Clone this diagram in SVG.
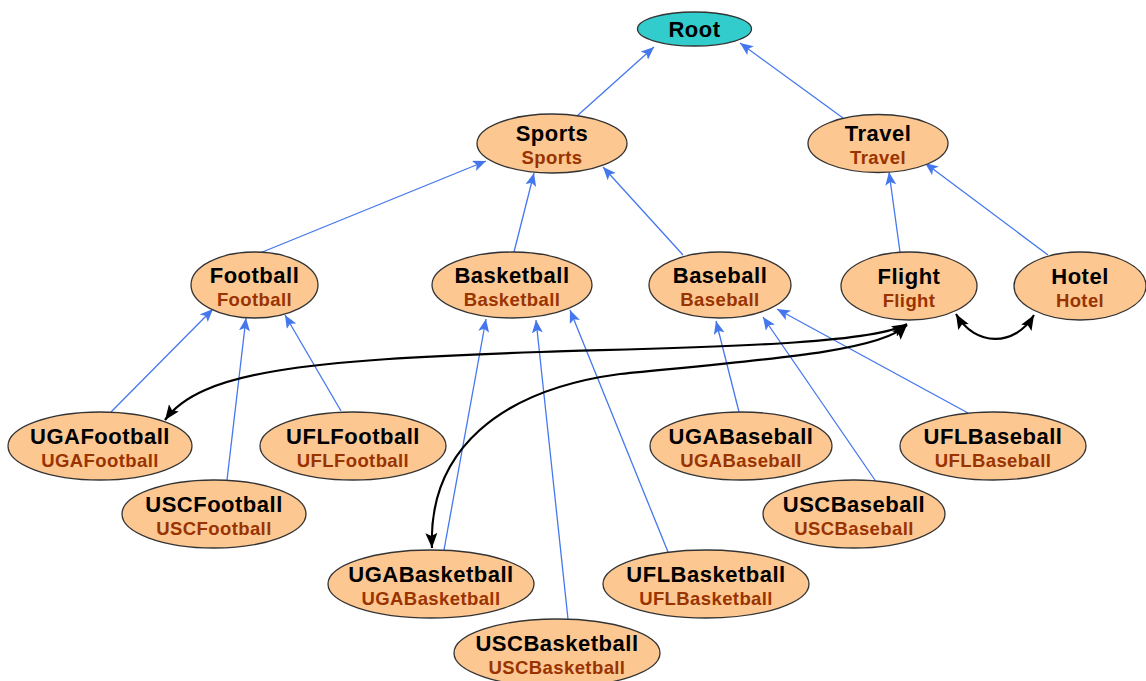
<svg xmlns="http://www.w3.org/2000/svg" width="1146" height="681" viewBox="0 0 1146 681">
<defs>
<style>
.n ellipse{fill:#fdc792;stroke:#333;stroke-width:1.3}
.n ellipse.root{fill:#33cccc}
.t1{font-family:"Liberation Sans",Arial,sans-serif;font-weight:bold;font-size:22px;letter-spacing:0.5px;fill:#000;text-anchor:middle}
.t2{font-family:"Liberation Sans",Arial,sans-serif;font-weight:bold;font-size:18.5px;letter-spacing:0.4px;fill:#993300;text-anchor:middle}
.e{stroke:#4477ee;stroke-width:1.3;fill:none;marker-end:url(#ab)}
.k{stroke:#000;stroke-width:2.2;fill:none;marker-end:url(#ak);marker-start:url(#ak)}
</style>
<marker id="ab" markerUnits="userSpaceOnUse" markerWidth="14" markerHeight="12" refX="13" refY="5.5" orient="auto"><path d="M0,0 L13,5.5 L0,11 L3,5.5 z" fill="#4477ee"/></marker>
<marker id="ak" markerUnits="userSpaceOnUse" markerWidth="16" markerHeight="14" refX="15" refY="6" orient="auto-start-reverse"><path d="M0,0 L15,6 L0,12 L3,6 z" fill="#000"/></marker>
</defs>
<rect width="1146" height="681" fill="#fff"/>
<g id="connectors">
<line class="e" x1="577" y1="116" x2="654" y2="47"/>
<line class="e" x1="843" y1="118" x2="740" y2="43"/>
<line class="e" x1="260" y1="253" x2="486" y2="161"/>
<line class="e" x1="514" y1="252" x2="534" y2="173"/>
<line class="e" x1="683" y1="255" x2="603" y2="167"/>
<line class="e" x1="900" y1="252" x2="889" y2="172"/>
<line class="e" x1="1048" y1="255" x2="925" y2="163"/>
<line class="e" x1="111" y1="412" x2="213" y2="309"/>
<line class="e" x1="227" y1="480" x2="246" y2="318"/>
<line class="e" x1="341" y1="411" x2="285" y2="315"/>
<line class="e" x1="444" y1="550" x2="486" y2="319"/>
<line class="e" x1="568" y1="619" x2="536" y2="320"/>
<line class="e" x1="668" y1="552" x2="570" y2="310"/>
<line class="e" x1="739" y1="412" x2="716" y2="321"/>
<line class="e" x1="877" y1="483" x2="763" y2="317"/>
<line class="e" x1="968" y1="413" x2="777" y2="309"/>
<path class="k" d="M165,420 C200,372 300,360 540,352 C700,347 870,345 907,324"/>
<path class="k" d="M432,548 C428,450 500,390 620,374 C760,360 880,352 907,325"/>
<path class="k" d="M956,314 C975,347 1015,347 1034,315"/>
</g>
<g id="Root" class="n"><ellipse class="root" cx="694.5" cy="29" rx="57" ry="17"/><text class="t1" x="694.5" y="37">Root</text></g>
<g id="Sports" class="n"><ellipse cx="552" cy="143.5" rx="75" ry="29.5"/><text class="t1" x="552" y="141">Sports</text><text class="t2" x="552" y="164">Sports</text></g>
<g id="Travel" class="n"><ellipse cx="878" cy="143.5" rx="70" ry="29"/><text class="t1" x="878" y="141">Travel</text><text class="t2" x="878" y="164">Travel</text></g>
<g id="Football" class="n"><ellipse cx="254.5" cy="285" rx="63.5" ry="33"/><text class="t1" x="254.5" y="283">Football</text><text class="t2" x="254.5" y="306">Football</text></g>
<g id="Basketball" class="n"><ellipse cx="512" cy="285" rx="80" ry="33"/><text class="t1" x="512" y="283">Basketball</text><text class="t2" x="512" y="306">Basketball</text></g>
<g id="Baseball" class="n"><ellipse cx="720" cy="285" rx="71" ry="33"/><text class="t1" x="720" y="283">Baseball</text><text class="t2" x="720" y="306">Baseball</text></g>
<g id="Flight" class="n"><ellipse cx="909" cy="286" rx="68" ry="34"/><text class="t1" x="909" y="284">Flight</text><text class="t2" x="909" y="307">Flight</text></g>
<g id="Hotel" class="n"><ellipse cx="1080" cy="286" rx="66" ry="34"/><text class="t1" x="1080" y="284">Hotel</text><text class="t2" x="1080" y="307">Hotel</text></g>
<g id="UGAFootball" class="n"><ellipse cx="100" cy="446" rx="92" ry="34"/><text class="t1" x="100" y="444">UGAFootball</text><text class="t2" x="100" y="467">UGAFootball</text></g>
<g id="UFLFootball" class="n"><ellipse cx="353" cy="446" rx="93" ry="34"/><text class="t1" x="353" y="444">UFLFootball</text><text class="t2" x="353" y="467">UFLFootball</text></g>
<g id="USCFootball" class="n"><ellipse cx="214" cy="514" rx="92" ry="34"/><text class="t1" x="214" y="512">USCFootball</text><text class="t2" x="214" y="535">USCFootball</text></g>
<g id="UGABasketball" class="n"><ellipse cx="431" cy="584" rx="103" ry="34"/><text class="t1" x="431" y="582">UGABasketball</text><text class="t2" x="431" y="605">UGABasketball</text></g>
<g id="UFLBasketball" class="n"><ellipse cx="706" cy="584" rx="103" ry="34"/><text class="t1" x="706" y="582">UFLBasketball</text><text class="t2" x="706" y="605">UFLBasketball</text></g>
<g id="USCBasketball" class="n"><ellipse cx="557" cy="653" rx="103" ry="34"/><text class="t1" x="557" y="651">USCBasketball</text><text class="t2" x="557" y="674">USCBasketball</text></g>
<g id="UGABaseball" class="n"><ellipse cx="741" cy="446" rx="91" ry="34"/><text class="t1" x="741" y="444">UGABaseball</text><text class="t2" x="741" y="467">UGABaseball</text></g>
<g id="USCBaseball" class="n"><ellipse cx="854" cy="514" rx="91" ry="34"/><text class="t1" x="854" y="512">USCBaseball</text><text class="t2" x="854" y="535">USCBaseball</text></g>
<g id="UFLBaseball" class="n"><ellipse cx="993" cy="446" rx="93" ry="34"/><text class="t1" x="993" y="444">UFLBaseball</text><text class="t2" x="993" y="467">UFLBaseball</text></g>
</svg>
